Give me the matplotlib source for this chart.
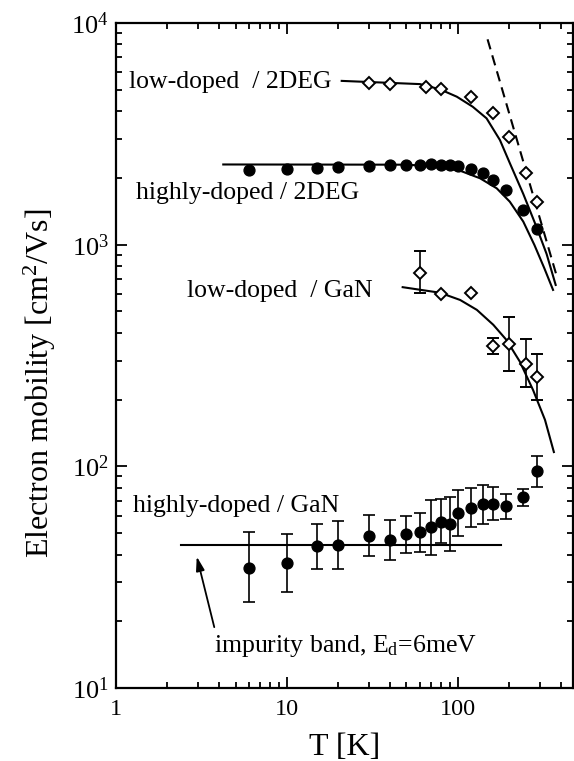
import matplotlib
matplotlib.use("Agg")
import matplotlib.pyplot as plt
from matplotlib.ticker import LogLocator, NullFormatter, FixedLocator, FixedFormatter

plt.rcParams['font.family'] = ['Liberation Serif', 'DejaVu Serif']
plt.rcParams['mathtext.fontset'] = 'custom'
plt.rcParams['mathtext.rm'] = 'Liberation Serif'
plt.rcParams['mathtext.it'] = 'Liberation Serif:italic'
plt.rcParams['mathtext.bf'] = 'Liberation Serif:bold'

# low-doped / 2DEG (open diamonds)
ld2_T = [30, 40, 65, 80, 120, 160, 200, 250, 290]
ld2_mu = [5380, 5290, 5160, 5020, 4650, 3910, 3070, 2110, 1560]

# highly-doped / 2DEG (filled circles)
hd2_T = [6, 10, 15, 20, 30, 40, 50, 60, 70, 80, 90, 100, 120, 140, 160, 190, 240, 290]
hd2_mu = [2170, 2190, 2210, 2230, 2270, 2280, 2280, 2280, 2310, 2290, 2280, 2270,
          2190, 2100, 1960, 1770, 1435, 1174]

# low-doped / GaN (open diamonds with error bars)
ldg_T = [60, 80, 120, 160, 200, 250, 290]
ldg_mu = [748, 600, 604, 349, 357, 290, 252]
ldg_hi = [937, 600, 604, 378, 472, 374, 321]
ldg_lo = [607, 600, 604, 320, 270, 229, 199]

# highly-doped / GaN (filled circles with error bars)
hdg_T = [6, 10, 15, 20, 30, 40, 50, 60, 70, 80, 90, 100, 120, 140, 160, 190, 240, 290]
hdg_mu = [34.9, 36.5, 43.7, 44.2, 48.7, 46.7, 49.4, 50.7, 53.1, 56.3, 55.0, 61.4,
          65.2, 67.7, 67.7, 66.3, 72.6, 95.7]
hdg_hi = [50.4, 49.5, 55.0, 56.7, 60.4, 57.5, 59.7, 61.8, 70.2, 71.3, 72.6, 78.3,
          79.6, 82.2, 81.0, 75.0, 79.0, 111.7]
hdg_lo = [24.5, 27.0, 34.4, 34.3, 39.4, 37.8, 40.5, 41.0, 39.8, 45.0, 41.7, 48.7,
          53.0, 55.0, 57.0, 58.0, 66.0, 81.0]

# fitted curves
fit_ld2_T = [20.9, 60, 78.5, 98.5, 122, 147, 176, 201, 241, 288, 330, 373]
fit_ld2_mu = [5480, 5300, 5020, 4650, 4190, 3715, 2965, 2335, 1694, 1202, 908, 658]

fit_hd2_T = [4.24, 50, 78.5, 102.6, 134.6, 168.5, 201, 241, 280, 320, 360]
fit_hd2_mu = [2300, 2295, 2248, 2158, 1993, 1796, 1563, 1271, 997, 783, 625]

fit_ldg_T = [47.5, 78.5, 103, 129, 161, 192, 230, 275, 323, 364]
fit_ldg_mu = [643, 607, 563, 508, 435, 372, 297, 221, 162, 116]

dash_T = [149, 374]
dash_mu = [8440, 743]

imp_T = [2.39, 178]
imp_mu = [44.3, 44.3]

fig = plt.figure(figsize=(5.74, 7.61), dpi=100)
ax = fig.add_axes([0.2021, 0.0959, 0.7959, 0.8739])
ax.set_xscale('log')
ax.set_yscale('log')
ax.set_xlim(1, 470)
ax.set_ylim(10, 1e4)

lw = 1.5
ax.plot(fit_ld2_T, fit_ld2_mu, color='black', lw=lw)
ax.plot(fit_hd2_T, fit_hd2_mu, color='black', lw=lw)
ax.plot(fit_ldg_T, fit_ldg_mu, color='black', lw=lw)
ax.plot(dash_T, dash_mu, color='black', lw=lw, ls=(0, (5, 3)))
ax.plot(imp_T, imp_mu, color='black', lw=lw)

ax.plot(ld2_T, ld2_mu, ls='none', marker='D', ms=5.8, mfc='white', mec='black', mew=1.4)
ax.plot(hd2_T, hd2_mu, ls='none', marker='o', ms=7.8, mfc='black', mec='black')

ldg_err = [[m - l for m, l in zip(ldg_mu, ldg_lo)], [h - m for m, h in zip(ldg_mu, ldg_hi)]]
ax.errorbar(ldg_T, ldg_mu, yerr=ldg_err, ls='none', marker='D', ms=5.8, mfc='white',
            mec='black', mew=1.4, ecolor='black', elinewidth=1.2, capsize=4, capthick=1.2)
hdg_err = [[m - l for m, l in zip(hdg_mu, hdg_lo)], [h - m for m, h in zip(hdg_mu, hdg_hi)]]
ax.errorbar(hdg_T, hdg_mu, yerr=hdg_err, ls='none', marker='o', ms=7.8, mfc='black',
            mec='black', ecolor='black', elinewidth=1.2, capsize=4, capthick=1.2)

fs = 18.5
ax.text(1.196, 5075, 'low-doped  / 2DEG', fontsize=fs, ha='left', va='baseline')
ax.text(1.309, 1608, 'highly-doped / 2DEG', fontsize=fs, ha='left', va='baseline')
ax.text(2.61, 583, 'low-doped  / GaN', fontsize=fs, ha='left', va='baseline')
ax.text(1.252, 62.5, 'highly-doped / GaN', fontsize=fs, ha='left', va='baseline')
ax.text(3.74, 14.6, r'impurity band, E$_{\mathrm{d}}$=6meV', fontsize=fs, ha='left', va='baseline')
ax.annotate('', xy=(2.94, 40.3), xytext=(3.79, 18.3),
            arrowprops=dict(arrowstyle='-|>,head_length=0.6,head_width=0.18',
                            color='black', lw=1.3, mutation_scale=14))

ax.xaxis.set_major_locator(FixedLocator([1, 10, 100]))
ax.xaxis.set_major_formatter(FixedFormatter(['1', '10', '100']))
ax.xaxis.set_minor_locator(LogLocator(base=10, subs=range(2, 10), numticks=20))
ax.xaxis.set_minor_formatter(NullFormatter())
ax.yaxis.set_minor_locator(LogLocator(base=10, subs=range(2, 10), numticks=20))
ax.yaxis.set_minor_formatter(NullFormatter())

ax.tick_params(which='both', direction='in', top=True, right=True, width=1.3)
ax.tick_params(which='major', length=8, pad=8)
ax.tick_params(axis='x', which='major', labelsize=17.5)
ax.tick_params(axis='y', which='major', labelsize=19, pad=5)
ax.tick_params(which='minor', length=4)
for s in ax.spines.values():
    s.set_linewidth(1.6)

ax.set_xlabel('T [K]', fontsize=23, labelpad=9)
ax.set_ylabel('Electron mobility [cm$^2$/Vs]', fontsize=23)
ax.yaxis.set_label_coords(-0.128, 0.458)

fig.savefig('out.png', dpi=100)
